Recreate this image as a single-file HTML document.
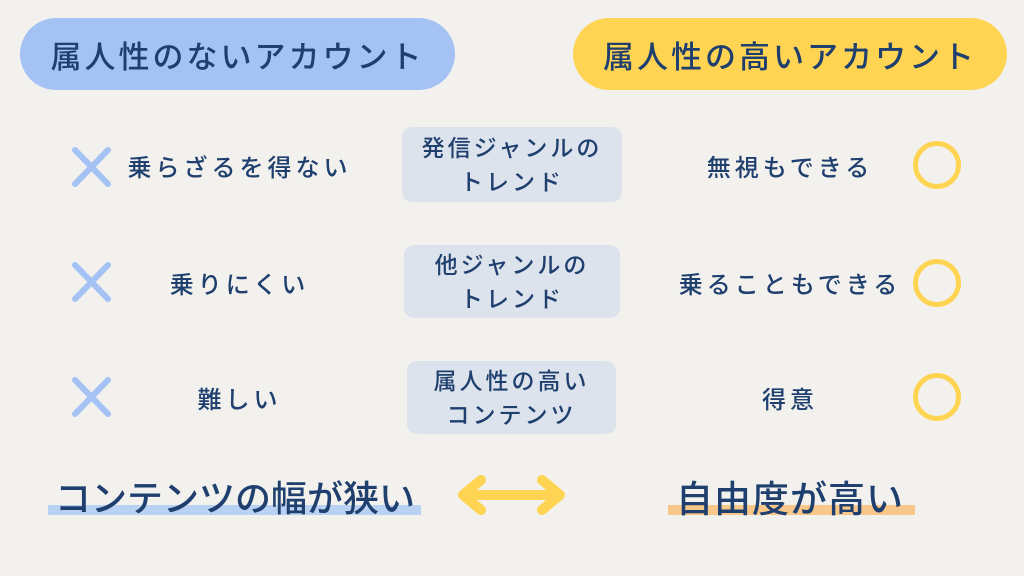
<!DOCTYPE html>
<html><head><meta charset="utf-8"><style>
*{margin:0;padding:0;box-sizing:border-box}
body{width:1024px;height:576px;background:#f2f1ee;position:relative;overflow:hidden;font-family:"Liberation Sans","Noto Sans CJK JP",sans-serif;color:#1f3f6e;font-weight:500}
.a{position:absolute;display:flex;align-items:center;justify-content:center;white-space:nowrap}
.pill{border-radius:40px;font-size:31px;letter-spacing:3px;top:18px;height:72px}
.t{font-size:24px;letter-spacing:4px;height:40px}
.box{background:#dde3ec;border-radius:10px;font-size:23px;letter-spacing:3px;line-height:34px;text-align:center;flex-direction:column}
.c{position:absolute;width:48px;height:48px;border:5px solid #ffd453;border-radius:50%}
</style></head><body>
<div class="a pill" style="left:20px;width:435px;background:#a4c2f4">属人性のないアカウント</div>
<div class="a pill" style="left:573px;width:434px;background:#ffd453">属人性の高いアカウント</div>

<svg style="position:absolute;left:0;top:0" width="1024" height="576">
<g stroke="#a4c2f4" stroke-width="6" stroke-linecap="round">
<line x1="75" y1="150" x2="108" y2="184"/><line x1="108" y1="150" x2="75" y2="184"/>
<line x1="75" y1="265" x2="108" y2="299"/><line x1="108" y1="265" x2="75" y2="299"/>
<line x1="75" y1="380" x2="108" y2="414"/><line x1="108" y1="380" x2="75" y2="414"/>
</g>
<path d="M466 495 L557 495" stroke="#ffd453" stroke-width="10"/>
<path d="M481 480 L463 495 L481 510 M542 480 L560 495 L542 510" fill="none" stroke="#ffd453" stroke-width="10" stroke-linecap="round" stroke-linejoin="round"/>
<rect x="48" y="505" width="373" height="10" fill="#b9d1f2"/>
<rect x="668" y="505" width="247" height="10" fill="#f9c78a"/>
</svg>

<div class="a t" style="left:122px;width:235px;top:145px">乗らざるを得ない</div>
<div class="a t" style="left:122px;width:235px;top:262px">乗りにくい</div>
<div class="a t" style="left:122px;width:235px;top:377px">難しい</div>

<div class="a box" style="left:402px;top:127px;width:220px;height:75px">発信ジャンルの<br>トレンド</div>
<div class="a box" style="left:404px;top:245px;width:216px;height:73px">他ジャンルの<br>トレンド</div>
<div class="a box" style="left:407px;top:361px;width:209px;height:73px">属人性の高い<br>コンテンツ</div>

<div class="a t" style="left:672px;width:236px;top:145px">無視もできる</div>
<div class="a t" style="left:672px;width:236px;top:262px">乗ることもできる</div>
<div class="a t" style="left:672px;width:236px;top:377px">得意</div>

<div class="c" style="left:913px;top:141px"></div>
<div class="c" style="left:913px;top:259px"></div>
<div class="c" style="left:913px;top:373px"></div>

<div class="a" style="left:40px;width:390px;top:472px;height:48px;font-size:36px;letter-spacing:0">コンテンツの幅が狭い</div>
<div class="a" style="left:660px;width:260px;top:472px;height:48px;font-size:37px;letter-spacing:1px">自由度が高い</div>
</body></html>
